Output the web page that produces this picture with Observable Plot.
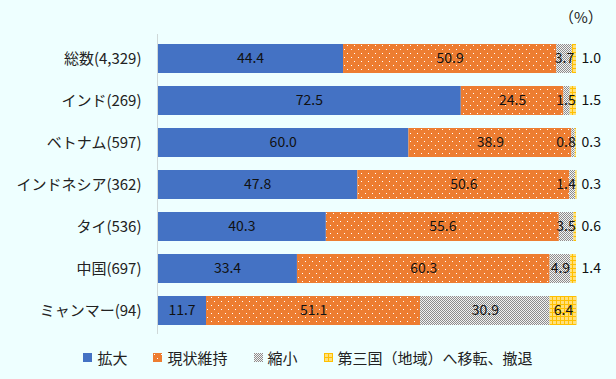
<!DOCTYPE html>
<html><head><meta charset="utf-8">
<script src="https://cdn.jsdelivr.net/npm/d3@7"></script>
<script src="https://cdn.jsdelivr.net/npm/@observablehq/plot@0.6"></script>
<style>
html,body{margin:0;padding:0;background:#EEFFFF;}
body{width:616px;height:379px;position:relative;overflow:hidden;font-family:"Noto Sans CJK JP","Noto Sans",sans-serif;}
#unit{position:absolute;left:559px;top:6px;font-size:15px;color:#222;}
#chart{position:absolute;left:0;top:0;}
#legend{position:absolute;left:0;width:616px;top:347px;display:flex;justify-content:center;font-size:15px;color:#222;}
.item{display:flex;align-items:center;margin:0 13px;}
.sw{width:9px;height:9px;margin-right:5px;}
</style></head>
<body>
<div id="unit">（%）</div>
<div id="chart"></div>
<div id="legend"></div>
<script>
const categories = ["総数(4,329)","インド(269)","ベトナム(597)","インドネシア(362)","タイ(536)","中国(697)","ミャンマー(94)"];
const seriesNames = ["拡大","現状維持","縮小","第三国（地域）へ移転、撤退"];
const expand   = [44.4, 72.5, 60.0, 47.8, 40.3, 33.4, 11.7];
const maintain = [50.9, 24.5, 38.9, 50.6, 55.6, 60.3, 51.1];
const shrink   = [3.7, 1.5, 0.8, 1.4, 3.5, 4.9, 30.9];
const relocate = [1.0, 1.5, 0.3, 0.3, 0.6, 1.4, 6.4];
const seriesValues = [expand, maintain, shrink, relocate];
const fills = ["url(#pBlue)","url(#pOrange)","url(#pGrey)","url(#pYellow)"];

const rows = [];
const labels = [];
categories.forEach((c, i) => {
  let acc = 0;
  seriesValues.forEach((vals, s) => {
    const v = vals[i];
    rows.push({cat: c, series: seriesNames[s], value: v, s});
    const mid = acc + v / 2;
    let x = mid, anchor = "middle";
    if (s === 2) x = Math.min(mid, 97.5);
    if (s === 3 && v < 3) { x = 100; anchor = "start"; }
    labels.push({cat: c, x, anchor, text: v.toFixed(1)});
    acc += v;
  });
});

const font = "'Noto Sans CJK JP','Noto Sans',sans-serif";
const plot = Plot.plot({
  width: 616, height: 340,
  marginLeft: 157, marginRight: 40, marginTop: 34, marginBottom: 6,
  style: {background: "transparent", fontFamily: font, fontSize: "14px", color: "#222"},
  x: {domain: [0, 100], axis: null},
  y: {domain: categories, paddingInner: 0.32, paddingOuter: 0.16, label: null, axis: null},
  color: {domain: seriesNames, range: fills},
  marks: [
    Plot.barX(rows, Plot.stackX({x: "value", y: "cat", fill: "series", order: null})),
    Plot.ruleX([0], {stroke: "#cfd8d8", strokeWidth: 1}),
    Plot.text(labels.filter(d => d.anchor === "middle"), {x: "x", y: "cat", text: "text", fill: "#111", fontSize: 14}),
    Plot.text(labels.filter(d => d.anchor === "start"), {x: "x", y: "cat", text: "text", fill: "#111", fontSize: 14, textAnchor: "start", dx: 5}),
    Plot.axisY({tickSize: 0, tickPadding: 16, fontSize: 15, fill: "#222", label: null})
  ]
});

const ns = "http://www.w3.org/2000/svg";
const defs = document.createElementNS(ns, "defs");
defs.innerHTML = `
<pattern id="pBlue" width="4" height="4" patternUnits="userSpaceOnUse"><rect width="4" height="4" fill="#4472C4"/></pattern>
<pattern id="pOrange" width="7" height="8" patternUnits="userSpaceOnUse"><rect width="7" height="8" fill="#ED7D31"/><rect x="1" y="1" width="1" height="1" fill="#fff"/><rect x="4" y="5" width="1" height="1" fill="#fff"/></pattern>
<pattern id="pGrey" width="2" height="2" patternUnits="userSpaceOnUse"><rect width="2" height="2" fill="#f2f2f2"/><rect x="0" y="0" width="1" height="1" fill="#8c8c8c"/><rect x="1" y="1" width="1" height="1" fill="#8c8c8c"/></pattern>
<pattern id="pYellow" width="4" height="4" patternUnits="userSpaceOnUse"><rect width="4" height="4" fill="#FFE07A"/><rect x="0" y="0" width="4" height="1" fill="#FFC000"/><rect x="0" y="0" width="1" height="4" fill="#FFC000"/></pattern>`;
const svg = plot.tagName.toLowerCase() === "svg" ? plot : plot.querySelector("svg");
svg.insertBefore(defs, svg.firstChild);
document.getElementById("chart").appendChild(plot);

const legend = document.getElementById("legend");
seriesNames.forEach((n, i) => {
  const it = document.createElement("div"); it.className = "item";
  it.innerHTML = `<svg class="sw" width="9" height="9"><rect width="9" height="9" fill="${fills[i]}"/></svg><span>${n}</span>`;
  legend.appendChild(it);
});
legend.querySelectorAll("svg").forEach(s => s.insertBefore(defs.cloneNode(true), s.firstChild));
</script>
</body></html>
